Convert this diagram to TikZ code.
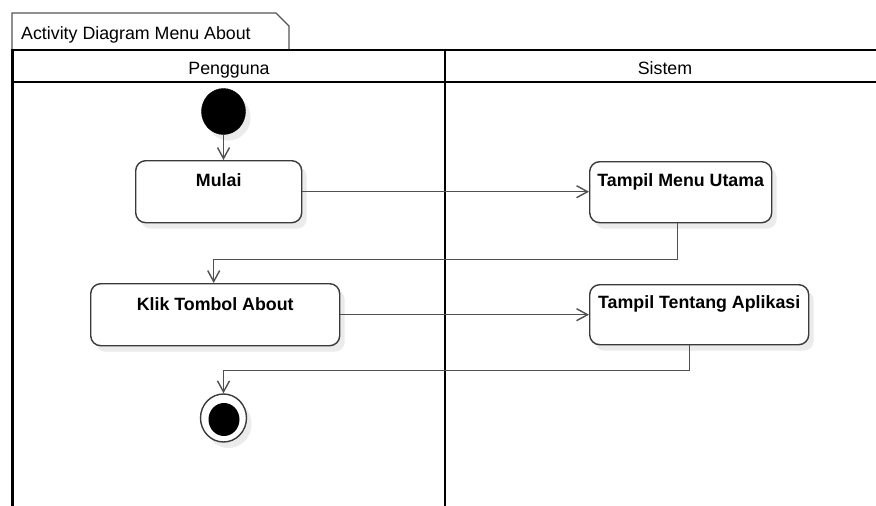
\documentclass[tikz,border=0pt]{standalone}
\usepackage{fontspec}
\setmainfont{Liberation Sans}
\usetikzlibrary{arrows.meta,shadows,calc,shapes.geometric}

\definecolor{edgegray}{HTML}{3A3A3A}
\definecolor{linkgray}{HTML}{505050}
\definecolor{tabgray}{HTML}{555555}
\definecolor{shade}{HTML}{EBEBEB}

\tikzset{
  lane/.style={line width=2.6pt, draw=black},
  tabline/.style={line width=1.1pt, draw=tabgray},
  softshadow/.style={drop shadow={shadow xshift=5pt, shadow yshift=-6pt, fill=shade, opacity=1}},
  action/.style={draw=edgegray, line width=1.4pt, fill=white, rounded corners=10pt,
    anchor=north west, inner xsep=0pt, inner ysep=0pt, align=center,
    font=\fontsize{17.8}{20}\selectfont\bfseries, softshadow},
  startnode/.style={ellipse, fill=black, draw=black, minimum width=44pt, minimum height=46pt,
    inner sep=0pt, softshadow},
  endring/.style={ellipse, draw=edgegray, fill=white, line width=1.4pt, minimum width=46pt,
    minimum height=48pt, inner sep=0pt, softshadow},
  enddot/.style={ellipse, fill=black, minimum width=31pt, minimum height=33pt, inner sep=0pt},
  flow/.style={draw=linkgray, line width=1.4pt, -{Straight Barb[length=11pt,width=12pt,line width=1.4pt]}},
  lanetitle/.style={font=\fontsize{17.8}{20}\selectfont, anchor=base, inner sep=0pt},
}

\begin{document}
\begin{tikzpicture}[x=1pt, y=-1pt]
\useasboundingbox (0,0) rectangle (876,506);
\fill[white] (0,0) rectangle (876,506);

% frame tab with folded corner
\draw[tabline] (12,50) -- (12,13) -- (276,13) -- (289,26) -- (289,50);
\node[font=\fontsize{17.8}{20}\selectfont, anchor=base west, inner sep=0pt] (frametitle) at (21,39) {Activity Diagram Menu About};

% swimlanes
\draw[lane] (12,50) -- (876,50);
\draw[lane] (12,82) -- (876,82);
\draw[lane] (12.5,48.7) -- (12.5,506);
\draw[lane] (445,48.7) -- (445,506);
\node[lanetitle] (lanea) at (229,74) {Pengguna};
\node[lanetitle] (laneb) at (665,74) {Sistem};

% nodes
\node[startnode] (init) at (223.5,111.5) {};
\node[action, minimum width=166pt, text height=26pt, text depth=36pt] (mulai) at (135,160) {Mulai};
\node[action, minimum width=182pt, text height=25pt, text depth=36pt] (menu) at (589,161) {Tampil Menu Utama};
\node[action, minimum width=249pt, text height=27pt, text depth=35pt] (klik) at (90,283) {Klik Tombol About};
\node[action, minimum width=219pt, text height=24pt, text depth=36pt] (tentang) at (589,284) {Tampil Tentang Aplikasi};
\node[endring] (final) at (223.5,418) {};
\node[enddot] (finaldot) at (224,419.5) {};

% control flow
\draw[flow] (init.south) -- (init.south |- mulai.north);
\draw[flow] (mulai.east) -- (mulai.east -| menu.west);
\draw[flow] ([xshift=-3pt]menu.south) -- ++(0,36) -| ([xshift=-1.5pt]klik.north);
\draw[flow] (klik.east) -- (klik.east -| tentang.west);
\draw[flow] ([xshift=-9.5pt]tentang.south) -- ++(0,25) -| (final.north);
\end{tikzpicture}
\end{document}
